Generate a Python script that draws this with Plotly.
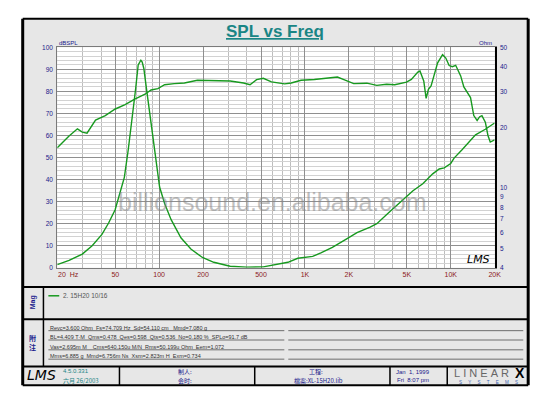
import plotly.graph_objects as go

# ---------------- data ----------------
spl_freq = [20, 24, 27.5, 29.7, 32, 34.4, 36.6, 42.7, 50, 58.4,
            68, 80, 88, 98, 109, 127, 149, 183, 237, 307,
            379, 420, 466, 518, 589, 725, 805, 940, 1160, 1430,
            1670, 1850, 2160, 2660, 3110, 3630, 4130, 4970, 5370, 5950,
            6150, 6530, 6780, 7030, 7330, 7710, 8130, 8790, 9250, 9750,
            10260, 10810, 11200, 11700, 12300, 12970, 13670, 14390, 15170, 15800,
            16370, 17270, 18000, 18670, 19680, 20000]
spl_db = [54.4, 59.6, 63, 61.5, 61, 64, 67, 69, 72, 74,
          76.5, 78.7, 80.6, 81.2, 83, 83.5, 83.8, 85, 85, 84.7,
          83.8, 83, 85.3, 85.9, 84.3, 83.4, 83.8, 85, 85.4, 85.9,
          86.5, 85.3, 83.5, 83.7, 82.7, 83.2, 83, 84.2, 85.4, 88.7,
          89.2, 84.7, 76.8, 80.9, 82.4, 87.6, 92.9, 96.6, 95.1, 91.7,
          91.2, 91.8, 89.5, 87, 82, 79.5, 77.2, 69, 66.8, 68.5,
          69, 66, 60, 57, 57.6, 58]

imp_freq = [20, 24.1, 29.7, 34.7, 40.5, 45, 49.9, 54, 57.7, 61.4,
            66.4, 68.9, 71.8, 73.5, 74.9, 76.5, 78.5, 81.7, 86.1, 92.2,
            100.7, 109, 120.8, 141, 165, 198, 237, 307, 399, 518,
            589, 764, 893, 991, 1130, 1286, 1542, 1946, 2275, 2800,
            3111, 3829, 4710, 5508, 6430, 7520, 8340, 9020, 10000, 10540,
            12000, 14790, 17270, 19680, 20000]
imp_ohm = [4.15, 4.35, 4.68, 5.15, 5.86, 6.68, 7.77, 9.37, 11.27, 15.5,
           23.8, 30.9, 40.8, 42.6, 43.1, 42.2, 39.2, 31.4, 23.8, 15.8,
           10.08, 8.36, 6.94, 5.64, 4.96, 4.50, 4.26, 4.07, 4.03, 4.04,
           4.12, 4.26, 4.46, 4.50, 4.56, 4.74, 5.05, 5.58, 5.98, 6.37,
           6.63, 7.62, 8.69, 9.66, 10.47, 11.73, 12.40, 12.56, 13.21, 14.04,
           15.5, 18.34, 19.54, 20.87, 21.0]

x_tickvals = [20, 50, 100, 200, 500, 1000, 2000, 5000, 10000, 20000]
x_ticktext = ["", "50", "100", "200", "500", "1K", "2K", "5K", "10K", "20K"]
x_minor = [30, 40, 60, 70, 80, 90, 300, 400, 600, 700, 800, 900,
           3000, 4000, 6000, 7000, 8000, 9000]
y_tickvals = [0, 10, 20, 30, 40, 50, 60, 70, 80, 90, 100]
y2_tickvals = [4, 5, 6, 7, 8, 9, 10, 20, 30, 40, 50]

param_lines = [
    "Revc=3.600 Ohm  Fs=74.709 Hz  Sd=54.110 cm   Mmd=7.080 g",
    "BL=4.409 T\u00b7M  Qms=0.478  Qes=0.598  Qts=0.536  No=0.180 %  SPLo=91.7 dB",
    "Vas=2.695m M    Cms=640.150u M/N  Rms=50.199u Ohm  Eem=1.072",
    "Mms=6.885 g  Mmd=6.756m Ns  Xsm=2.823m H  Exm=0.734",
]
legend_label = "2. 15H20 10/16"

# ---------------- helpers ----------------
W, H = 550, 399
def px(x):
    return x / W
def py(y):
    return 1 - y / H

FONT = "Liberation Sans, Arial, sans-serif"
GREEN = "#17991f"
NAVY = "#1a1a8c"
DRED = "#8b1a1a"
TEAL = "#1a8585"

PL, PR, PT, PB = 58, 501, 44, 268.5

fig = go.Figure()
fig.add_trace(go.Scatter(x=spl_freq, y=spl_db, mode="lines",
                         line=dict(color=GREEN, width=1.4), name="SPL",
                         showlegend=False, yaxis="y"))
fig.add_trace(go.Scatter(x=imp_freq, y=imp_ohm, mode="lines",
                         line=dict(color=GREEN, width=1.4), name="Impedance",
                         showlegend=False, yaxis="y2"))

shapes = []
def rect(x0, y0, x1, y1, fill, lc="black", lw=0):
    shapes.append(dict(type="rect", xref="paper", yref="paper",
                       x0=px(x0), x1=px(x1), y0=py(y1), y1=py(y0),
                       fillcolor=fill, line=dict(color=lc, width=lw), layer="below"))
def line(x0, y0, x1, y1, color="black", w=1.0, layer="above"):
    shapes.append(dict(type="line", xref="paper", yref="paper",
                       x0=px(x0), x1=px(x1), y0=py(y0), y1=py(y1),
                       line=dict(color=color, width=w), layer=layer))

rect(23, 15, 535, 388, "#e7e7e7", "black", 0)
rect(PL, PT, PR, PB, "white")
# frame border
line(23, 15, 535, 15, "black", 2)
line(23, 388, 535, 388, "black", 2)
line(23, 15, 23, 388, "black", 3)
line(535, 15, 535, 388, "black", 3)
# panel separators
line(23, 288, 535, 288, "black", 2)
line(23, 321, 535, 321, "black", 2)
line(23, 369, 535, 369, "black", 2)
line(44, 288, 44, 369, "black", 1.5)
for xv in [121, 258, 395, 453]:
    line(xv, 369, xv, 388, "black", 1.5)
# parameter row rules
for yv in [332.5, 342, 352, 361.5]:
    line(49, yv, 288, yv, "#6e6e6e", 1)
    line(292, yv, 530, yv, "#6e6e6e", 1)
# legend swatch
line(49, 297, 60, 297, GREEN, 1.5)

ann = []
def text(x, y, s, size=7, color="black", xanchor="center", bold=False,
         italic=False, angle=0, family=FONT, **kw):
    f = dict(size=size, color=color, family=family)
    if bold:
        f["weight"] = "bold"
    if italic:
        f["style"] = "italic"
    f.update(kw.pop("fontextra", {}))
    ann.append(dict(xref="paper", yref="paper", x=px(x), y=py(y), text=s,
                    showarrow=False, xanchor=xanchor, yanchor="middle",
                    font=f, textangle=angle, **kw))

text(279, 28.5, "SPL vs Freq", size=17, color=TEAL, bold=True,
     fontextra=dict(lineposition="under"))
text(58, 40, "dBSPL", size=6, color=NAVY, xanchor="left")
text(500, 40, "Ohm", size=6, color=NAVY, xanchor="right")
text(57, 275, "20\u00a0\u00a0Hz", size=7, color=DRED, xanchor="left")
text(276, 202, "billionsound.en.alibaba.com", size=25, color="rgba(130,130,130,0.5)")
text(485, 260, "LMS", size=11, color="black", italic=True, family="DejaVu Sans")

text(33, 304, "Mag", size=7, color=NAVY, bold=True, angle=-90)
text(33, 345, "附<br>注", size=7, color=NAVY, bold=True,
     family="Noto Sans CJK SC")
text(62, 297, legend_label, size=6.5, color="#555555", xanchor="left")
for i, s in enumerate(param_lines):
    text(49, [329.5, 339, 349, 358.5][i], s, size=5.5, color="#333333", xanchor="left")

# footer
text(42, 378, "LMS", size=14, color="black", italic=True, family="DejaVu Sans")
text(62, 374, "4.5.0.331", size=6, color=TEAL, xanchor="left")
text(62, 383, "六月 26/2003", size=6, color=TEAL, xanchor="left",
     family="Noto Sans CJK SC")
text(178, 374, "制人:", size=6, color=NAVY, xanchor="left", family="Noto Sans CJK SC")
text(178, 383, "会时:", size=6, color=NAVY, xanchor="left", family="Noto Sans CJK SC")
text(320, 374, "工程:", size=6, color=NAVY, family="Noto Sans CJK SC")
text(323, 383, "檔案:XL-15H20.lib", size=6, color=NAVY, family="Noto Sans CJK SC")
text(418, 375, "Jan  1, 1999", size=6, color=NAVY)
text(418, 383, "Fri  8:07 pm", size=6, color=NAVY)
text(488, 376, "L\u00a0I\u00a0N\u00a0E\u00a0A\u00a0R", size=11, color="#666666")
text(527, 376, "X", size=14, color="black", bold=True)
text(495, 385.5, "S\u00a0\u00a0\u00a0\u00a0\u00a0Y\u00a0\u00a0\u00a0\u00a0\u00a0S\u00a0\u00a0\u00a0\u00a0\u00a0T\u00a0\u00a0\u00a0\u00a0\u00a0E\u00a0\u00a0\u00a0\u00a0\u00a0M\u00a0\u00a0\u00a0\u00a0\u00a0S",
     size=4.5, color="#3a5fb0")

fig.update_layout(
    width=W, height=H, autosize=False,
    margin=dict(l=0, r=0, t=0, b=0),
    paper_bgcolor="white", plot_bgcolor="rgba(0,0,0,0)",
    shapes=shapes, annotations=ann,
    showlegend=False,
    font=dict(family=FONT),
    xaxis=dict(type="log", range=[1.30103, 4.30103],
               domain=[px(PL), px(PR)],
               tickmode="array", tickvals=x_tickvals, ticktext=x_ticktext,
               tickfont=dict(size=7, color=DRED, family=FONT),
               ticks="", ticklabelstandoff=0, showgrid=True, gridcolor="#8f8f8f", gridwidth=1,
               minor=dict(tickmode="array", tickvals=x_minor, showgrid=True,
                          gridcolor="#bdbdbd", gridwidth=1, ticks=""),
               showline=True, linecolor="#7a7a7a", linewidth=1, mirror=True,
               zeroline=False, fixedrange=True),
    yaxis=dict(range=[0, 100], domain=[py(PB), py(PT)],
               tickmode="array", tickvals=y_tickvals,
               tickfont=dict(size=6.5, color=NAVY, family=FONT),
               ticks="", ticklabelstandoff=2,
               showgrid=True, gridcolor="#8f8f8f", gridwidth=1,
               minor=dict(dtick=2, showgrid=True, gridcolor="#d2d2d2", gridwidth=1, ticks=""),
               showline=True, linecolor="#7a7a7a", linewidth=1,
               zeroline=False, fixedrange=True),
    yaxis2=dict(type="log", range=[0.60206, 1.69897], overlaying="y", side="right",
                anchor="x", tickmode="array", tickvals=y2_tickvals,
                tickfont=dict(size=6.5, color=NAVY, family=FONT),
                ticks="", ticklabelstandoff=2, showgrid=False,
                showline=True, linecolor="black", linewidth=2,
                zeroline=False, fixedrange=True),
)

fig.write_html("out.html",
               config={"displayModeBar": False, "staticPlot": True},
               post_script="document.body.style.margin='0';document.body.style.padding='0';")
